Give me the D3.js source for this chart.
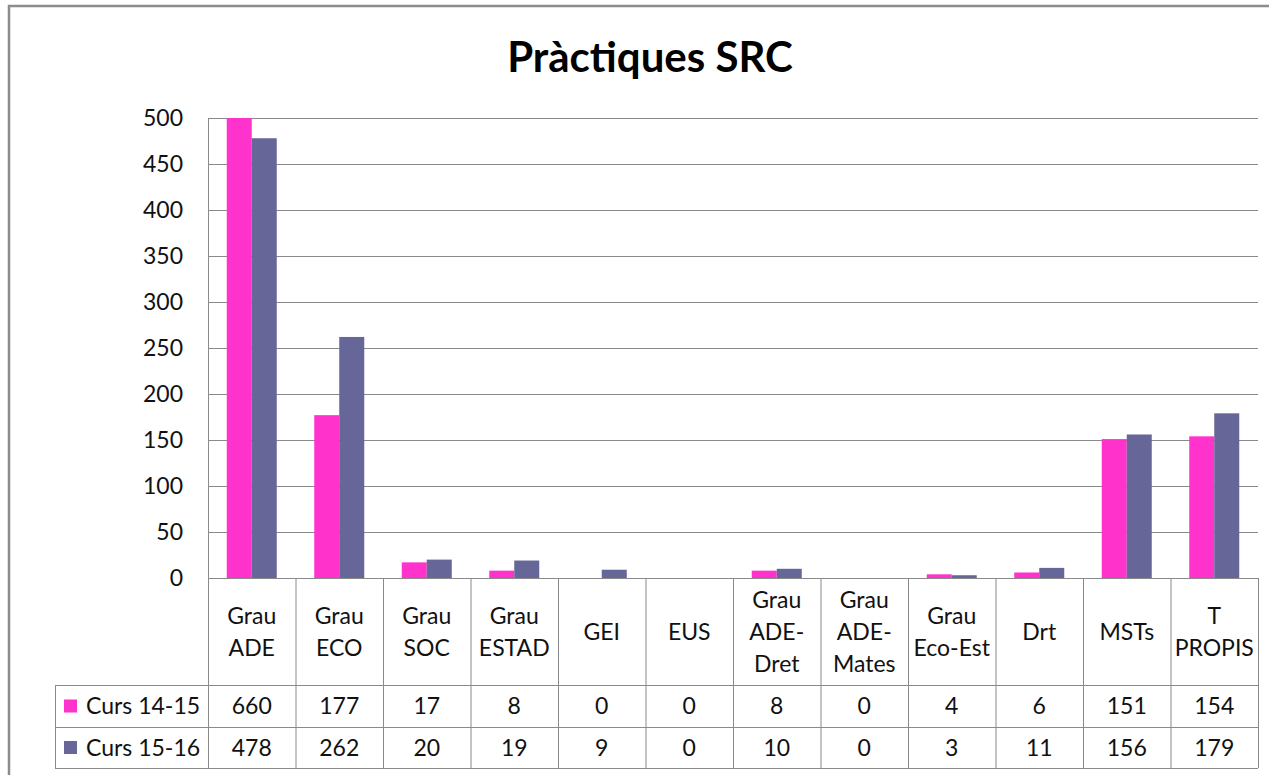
<!DOCTYPE html>
<html>
<head>
<meta charset="utf-8">
<script src="https://cdn.jsdelivr.net/npm/d3@7"></script>
<style>
  body { margin: 0; background: #fff; }
  text { font-family: Lato, "Open Sans", sans-serif; fill: #111; }
</style>
</head>
<body>
<div class="chart"></div>
<script>
const categories = [
    ['Grau', 'ADE'], ['Grau', 'ECO'], ['Grau', 'SOC'], ['Grau', 'ESTAD'],
    ['GEI'], ['EUS'], ['Grau', 'ADE-', 'Dret'], ['Grau', 'ADE-', 'Mates'],
    ['Grau', 'Eco-Est'], ['Drt'], ['MSTs'], ['T', 'PROPIS']
]
const seriesNames = ['Curs 14-15', 'Curs 15-16']
const curs1415 = [660, 177, 17, 8, 0, 0, 8, 0, 4, 6, 151, 154]
const curs1516 = [478, 262, 20, 19, 9, 0, 10, 0, 3, 11, 156, 179]
const yTicks = [0, 50, 100, 150, 200, 250, 300, 350, 400, 450, 500]

const colors = ['#ff33cc', '#666699']
const gridColor = '#8a8a8a'
const fontSize = 23

const width = 1269
const height = 775

const plot = { left: 208, right: 1258, top: 118, bottom: 578 }
const table = { left: 55, header: 685, row1: 727, row2: 768 }

const series = [curs1415, curs1516]
const keys = categories.map(c => c.join(' '))

const svg = d3.select('.chart')
    .append('svg')
    .attr('width', width)
    .attr('height', height)

// outer chart frame (runs past the right/bottom edge)
svg.append('rect')
    .attr('x', 9)
    .attr('y', 6)
    .attr('width', 1290)
    .attr('height', 800)
    .attr('fill', 'none')
    .attr('stroke', '#8c8c8c')
    .attr('stroke-width', 2.5)

svg.append('text')
    .attr('x', 650)
    .attr('y', 72)
    .attr('text-anchor', 'middle')
    .attr('font-size', 42)
    .attr('font-weight', 'bold')
    .style('fill', '#000')
    .text('Pràctiques SRC')

const y = d3.scaleLinear()
    .domain([0, 500])
    .range([plot.bottom, plot.top])

const x0 = d3.scaleBand()
    .domain(keys)
    .range([plot.left, plot.right])
    .paddingInner(0.4286)
    .paddingOuter(0.2143)

const x1 = d3.scaleBand()
    .domain(seriesNames)
    .range([0, x0.bandwidth()])

const step = x0.step()

// gridlines
svg.append('g')
    .selectAll('line')
    .data(yTicks.filter(d => d > 0))
    .enter().append('line')
    .attr('x1', plot.left)
    .attr('x2', plot.right)
    .attr('y1', d => y(d) + 0.5)
    .attr('y2', d => y(d) + 0.5)
    .attr('stroke', gridColor)

const yAxis = svg.append('g')
    .attr('transform', `translate(${plot.left},0)`)
    .call(d3.axisLeft(y).tickValues(yTicks).tickSize(0).tickPadding(25))
yAxis.select('.domain').remove()
yAxis.selectAll('text')
    .attr('font-size', fontSize)
    .attr('font-family', 'Lato, sans-serif')
    .attr('fill', '#111')

svg.append('defs').append('clipPath')
    .attr('id', 'plotclip')
    .append('rect')
    .attr('x', plot.left)
    .attr('y', plot.top)
    .attr('width', plot.right - plot.left)
    .attr('height', plot.bottom - plot.top)

const bars = svg.append('g').attr('clip-path', 'url(#plotclip)')

series.forEach((vals, si) => {
    bars.append('g')
        .selectAll('rect')
        .data(vals)
        .enter().append('rect')
        .attr('x', (d, i) => x0(keys[i]) + x1(seriesNames[si]))
        .attr('width', x1.bandwidth())
        .attr('y', d => y(d))
        .attr('height', d => y(0) - y(d))
        .attr('fill', colors[si])
})

// left axis line
svg.append('line')
    .attr('x1', plot.left + 0.5).attr('x2', plot.left + 0.5)
    .attr('y1', plot.top).attr('y2', table.row2)
    .attr('stroke', gridColor)

// data table lines
const hLines = [
    { y: plot.bottom, x1: plot.left },
    { y: table.header, x1: table.left },
    { y: table.row1, x1: table.left },
    { y: table.row2, x1: table.left }
]
svg.append('g')
    .selectAll('line')
    .data(hLines)
    .enter().append('line')
    .attr('x1', d => d.x1)
    .attr('x2', plot.right)
    .attr('y1', d => d.y + 0.5)
    .attr('y2', d => d.y + 0.5)
    .attr('stroke', gridColor)

svg.append('g')
    .selectAll('line')
    .data(keys)
    .enter().append('line')
    .attr('x1', d => x0(d) - x0.paddingOuter() * step + step + 0.5)
    .attr('x2', d => x0(d) - x0.paddingOuter() * step + step + 0.5)
    .attr('y1', plot.bottom)
    .attr('y2', table.row2)
    .attr('stroke', gridColor)

svg.append('line')
    .attr('x1', table.left + 0.5).attr('x2', table.left + 0.5)
    .attr('y1', table.header).attr('y2', table.row2)
    .attr('stroke', gridColor)

// category headers
const lineH = 32
const headMid = (plot.bottom + table.header) / 2
categories.forEach((lines, i) => {
    const cx = x0(keys[i]) + x0.bandwidth() / 2
    const t = svg.append('text')
        .attr('text-anchor', 'middle')
        .attr('font-size', fontSize)
    lines.forEach((ln, j) => {
        t.append('tspan')
            .attr('x', cx)
            .attr('y', headMid + (j - (lines.length - 1) / 2) * lineH + 8)
            .text(ln)
    })
})

// value rows with legend keys
const rowMids = [(table.header + table.row1) / 2, (table.row1 + table.row2) / 2]
series.forEach((vals, si) => {
    svg.append('rect')
        .attr('x', 64)
        .attr('y', rowMids[si] - 6.5)
        .attr('width', 13)
        .attr('height', 13)
        .attr('fill', colors[si])
    svg.append('text')
        .attr('x', 86)
        .attr('y', rowMids[si] + 8)
        .attr('font-size', fontSize)
        .text(seriesNames[si])
    svg.append('g')
        .selectAll('text')
        .data(vals)
        .enter().append('text')
        .attr('x', (d, i) => x0(keys[i]) + x0.bandwidth() / 2)
        .attr('y', rowMids[si] + 8)
        .attr('text-anchor', 'middle')
        .attr('font-size', fontSize)
        .text(d => d)
})
</script>
</body>
</html>
